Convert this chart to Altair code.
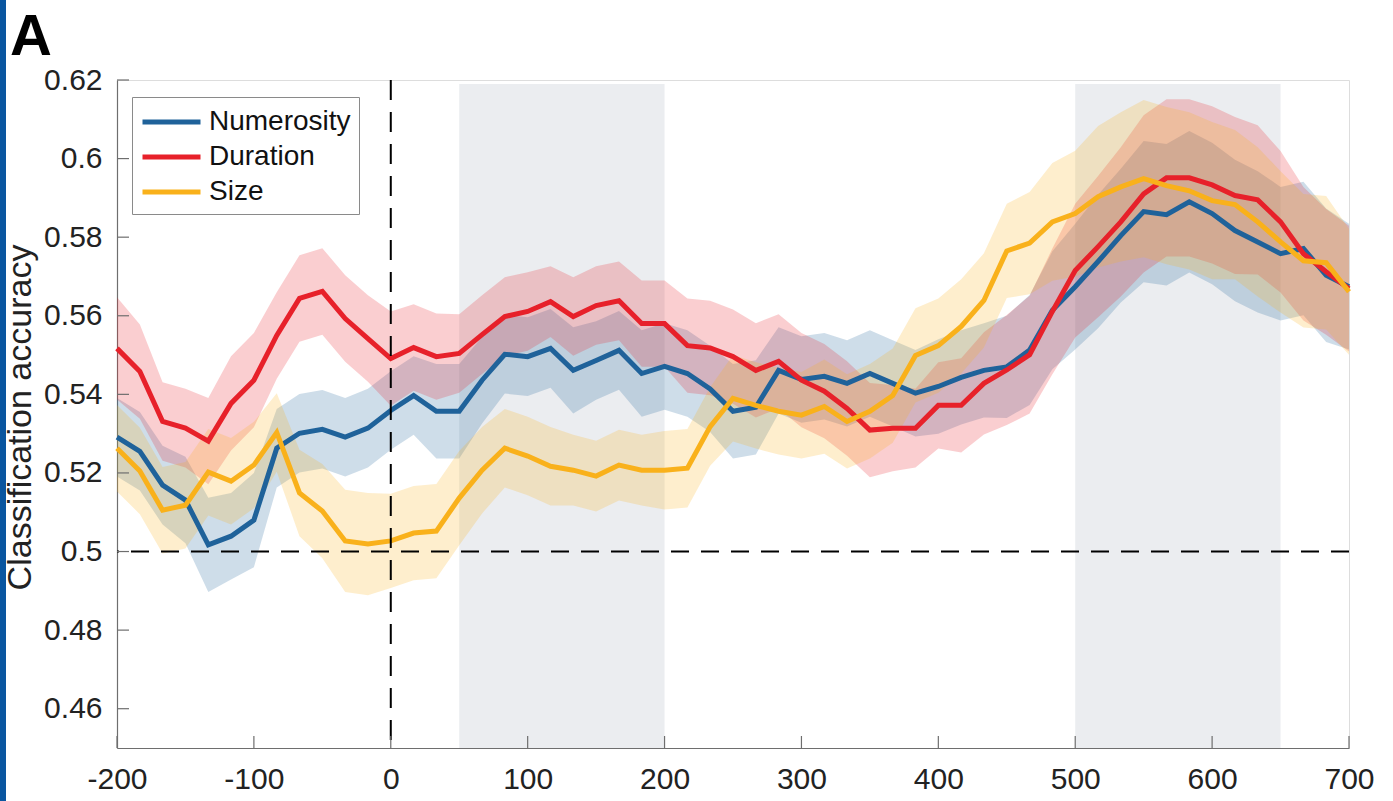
import altair as alt
import pandas as pd

# time points (ms)
time_ms = [-200, -183.3, -166.7, -150, -133.3, -116.7, -100, -83.3, -66.7, -50, -33.3, -16.7,
           0, 16.7, 33.3, 50, 66.7, 83.3, 100, 116.7, 133.3, 150, 166.7, 183.3, 200, 216.7,
           233.3, 250, 266.7, 283.3, 300, 316.7, 333.3, 350, 366.7, 383.3, 400, 416.7, 433.3,
           450, 466.7, 483.3, 500, 516.7, 533.3, 550, 566.7, 583.3, 600, 616.7, 633.3, 650,
           666.7, 683.3, 700]

series_names = ["Numerosity", "Duration", "Size"]
series_colors = ["#1f629a", "#e7212a", "#f9b11b"]

numerosity = [0.5291, 0.5255, 0.5169, 0.5131, 0.5017, 0.5039, 0.5080, 0.5263, 0.5301, 0.5311,
              0.5291, 0.5314, 0.5359, 0.5397, 0.5357, 0.5357, 0.5436, 0.5502, 0.5496, 0.5517,
              0.5461, 0.5486, 0.5512, 0.5453, 0.5471, 0.5453, 0.5414, 0.5357, 0.5367, 0.5461,
              0.5438, 0.5446, 0.5428, 0.5453, 0.5428, 0.5403, 0.5420, 0.5443, 0.5461, 0.5470,
              0.5513, 0.5614, 0.5674, 0.5738, 0.5804, 0.5865, 0.5857, 0.5890, 0.5860, 0.5817,
              0.5788, 0.5758, 0.5771, 0.5703, 0.5674]
numerosity_sem = [0.010, 0.010, 0.010, 0.011, 0.012, 0.011, 0.012, 0.010, 0.010, 0.010,
                  0.010, 0.010, 0.010, 0.010, 0.012, 0.012, 0.011, 0.010, 0.010, 0.010,
                  0.011, 0.010, 0.010, 0.011, 0.011, 0.011, 0.011, 0.012, 0.012, 0.011,
                  0.011, 0.011, 0.011, 0.011, 0.011, 0.011, 0.012, 0.012, 0.012, 0.013,
                  0.014, 0.015, 0.016, 0.017, 0.017, 0.018, 0.018, 0.018, 0.018, 0.018,
                  0.018, 0.017, 0.017, 0.017, 0.016]

duration = [0.5517, 0.5458, 0.5331, 0.5314, 0.5281, 0.5377, 0.5436, 0.5550, 0.5644, 0.5662,
            0.5593, 0.5542, 0.5491, 0.5519, 0.5496, 0.5504, 0.5552, 0.5598, 0.5611, 0.5636,
            0.5598, 0.5626, 0.5638, 0.5580, 0.5580, 0.5524, 0.5518, 0.5496, 0.5461, 0.5484,
            0.5436, 0.5408, 0.5364, 0.5309, 0.5314, 0.5314, 0.5372, 0.5372, 0.5428, 0.5462,
            0.5501, 0.5611, 0.5715, 0.5776, 0.5839, 0.5910, 0.5951, 0.5951, 0.5933, 0.5906,
            0.5895, 0.5839, 0.5758, 0.5712, 0.5669]
duration_sem = [0.013, 0.012, 0.010, 0.010, 0.011, 0.012, 0.012, 0.011, 0.011, 0.011,
                0.011, 0.011, 0.012, 0.011, 0.011, 0.010, 0.010, 0.010, 0.010, 0.009,
                0.010, 0.010, 0.010, 0.011, 0.011, 0.012, 0.012, 0.012, 0.012, 0.012,
                0.012, 0.012, 0.012, 0.012, 0.011, 0.010, 0.011, 0.012, 0.013, 0.014,
                0.015, 0.016, 0.017, 0.018, 0.019, 0.020, 0.020, 0.020, 0.020, 0.020,
                0.019, 0.018, 0.017, 0.016, 0.016]

size = [0.5263, 0.5205, 0.5105, 0.5118, 0.5202, 0.5179, 0.5220, 0.5303, 0.5149, 0.5103,
        0.5027, 0.5019, 0.5027, 0.5047, 0.5052, 0.5136, 0.5207, 0.5263, 0.5243, 0.5217,
        0.5207, 0.5192, 0.5220, 0.5207, 0.5207, 0.5212, 0.5318, 0.5390, 0.5372, 0.5357,
        0.5347, 0.5369, 0.5331, 0.5357, 0.5397, 0.5499, 0.5524, 0.5573, 0.5639, 0.5765,
        0.5785, 0.5839, 0.5860, 0.5903, 0.5928, 0.5949, 0.5931, 0.5918, 0.5893, 0.5883,
        0.5839, 0.5788, 0.5740, 0.5735, 0.5661]
size_sem = [0.011, 0.011, 0.011, 0.011, 0.011, 0.011, 0.011, 0.010, 0.011, 0.012,
            0.013, 0.013, 0.012, 0.012, 0.012, 0.012, 0.011, 0.010, 0.010, 0.010,
            0.009, 0.009, 0.009, 0.009, 0.010, 0.010, 0.010, 0.011, 0.011, 0.011,
            0.011, 0.012, 0.012, 0.012, 0.012, 0.012, 0.012, 0.012, 0.012, 0.012,
            0.013, 0.015, 0.016, 0.018, 0.019, 0.020, 0.020, 0.020, 0.020, 0.019,
            0.019, 0.018, 0.017, 0.017, 0.016]

# shaded analysis windows (ms)
win_start = [50, 500]
win_end = [200, 650]

y_ticks = [0.46, 0.48, 0.50, 0.52, 0.54, 0.56, 0.58, 0.60, 0.62]
x_ticks = [-200, -100, 0, 100, 200, 300, 400, 500, 600, 700]

FONT = "Liberation Sans"
W, H = 1232, 668

rows = []
for name, m, s in [("Numerosity", numerosity, numerosity_sem),
                   ("Duration", duration, duration_sem),
                   ("Size", size, size_sem)]:
    for t, v, e in zip(time_ms, m, s):
        rows.append({"t": t, "series": name, "acc": v, "lo": v - e, "hi": v + e})
df = pd.DataFrame(rows)

xscale = alt.Scale(domain=[-200, 700], nice=False, zero=False)
yscale = alt.Scale(domain=[0.45, 0.62], nice=False, zero=False)
cscale = alt.Scale(domain=series_names, range=series_colors)

xaxis = alt.Axis(values=x_ticks, labelExpr="'' + datum.value", title=None, grid=False,
                 ticks=False, domainColor="#6e6e6e", domainWidth=1.2, labelFlush=False,
                 labelOverlap=False,
                 labelFont=FONT, labelFontSize=30, labelColor="#222222", labelPadding=16)
yaxis = alt.Axis(values=y_ticks, format="~g", title="Classification accuracy", grid=False,
                 ticks=False, domainColor="#6e6e6e", domainWidth=1.2, labelFlush=False,
                 labelOverlap=False,
                 labelFont=FONT, labelFontSize=30, labelColor="#222222", labelPadding=15,
                 titleFont=FONT, titleFontSize=34, titleFontWeight="normal", titleColor="#222222",
                 titleX=-80, titleY=337)

legend = alt.Legend(title=None, orient="none", legendX=15, legendY=17,
                    symbolType="M-1,0L3,0", symbolSize=841, symbolStrokeWidth=5,
                    labelFont=FONT, labelFontSize=28, labelColor="#111111",
                    labelOffset=35, rowPadding=4,
                    strokeColor="#8a8a8a", fillColor="white",
                    padding=8, symbolOpacity=1)

win_df = pd.DataFrame({"start": win_start, "end": win_end, "ylo": [0.45, 0.45], "yhi": [0.619, 0.619]})
windows = alt.Chart(win_df).mark_rect(color="#ebedf0").encode(
    x=alt.X("start:Q", scale=xscale, axis=xaxis),
    x2="end:Q",
    y=alt.Y("ylo:Q", scale=yscale, axis=yaxis),
    y2="yhi:Q",
)

base = alt.Chart(df)
bands = base.mark_area(opacity=0.22, interpolate="linear").encode(
    x=alt.X("t:Q", scale=xscale),
    y=alt.Y("lo:Q", scale=yscale, stack=None),
    y2="hi:Q",
    color=alt.Color("series:N", scale=cscale, sort=series_names, legend=legend),
)

lines = base.mark_line(strokeWidth=5, interpolate="linear").encode(
    x=alt.X("t:Q", scale=xscale),
    y=alt.Y("acc:Q", scale=yscale),
    color=alt.Color("series:N", scale=cscale, sort=series_names, legend=legend),
)

hline = alt.Chart(pd.DataFrame({"v": [0.5]})).mark_rule(color="black", strokeWidth=2,
                                                         strokeDash=[18, 12]).encode(
    y=alt.Y("v:Q", scale=yscale))
vline = alt.Chart(pd.DataFrame({"v": [0]})).mark_rule(color="black", strokeWidth=2,
                                                       strokeDash=[20, 12]).encode(
    x=alt.X("v:Q", scale=xscale))

ytick_marks = alt.Chart(pd.DataFrame({"v": y_ticks})).mark_rule(color="#6e6e6e", strokeWidth=1.2).encode(
    y=alt.Y("v:Q", scale=yscale), x=alt.value(0), x2=alt.value(12))
xtick_marks = alt.Chart(pd.DataFrame({"v": x_ticks})).mark_rule(color="#6e6e6e", strokeWidth=1.2).encode(
    x=alt.X("v:Q", scale=xscale), y=alt.value(H), y2=alt.value(H - 12))

one = pd.DataFrame({"k": [0]})
panel_label = alt.Chart(one).mark_text(text="A", font=FONT, fontSize=58, fontWeight="bold",
                                       align="left", baseline="alphabetic", color="black").encode(
    x=alt.value(-107), y=alt.value(-25))
side_bar = alt.Chart(one).mark_rect(color="#0a56a0").encode(
    x=alt.value(-117), x2=alt.value(-111), y=alt.value(-80), y2=alt.value(H + 53))

chart = alt.layer(windows, bands, lines, hline, vline, ytick_marks, xtick_marks,
                  panel_label, side_bar).resolve_scale(color="shared").properties(
    width=W, height=H,
    padding={"left": 117, "top": 80, "right": 44, "bottom": 53},
    autosize=alt.AutoSizeParams(type="none"),
).configure_view(strokeWidth=0).configure(background="white")

chart.save("out.html", embed_options={"renderer": "svg", "actions": False})
